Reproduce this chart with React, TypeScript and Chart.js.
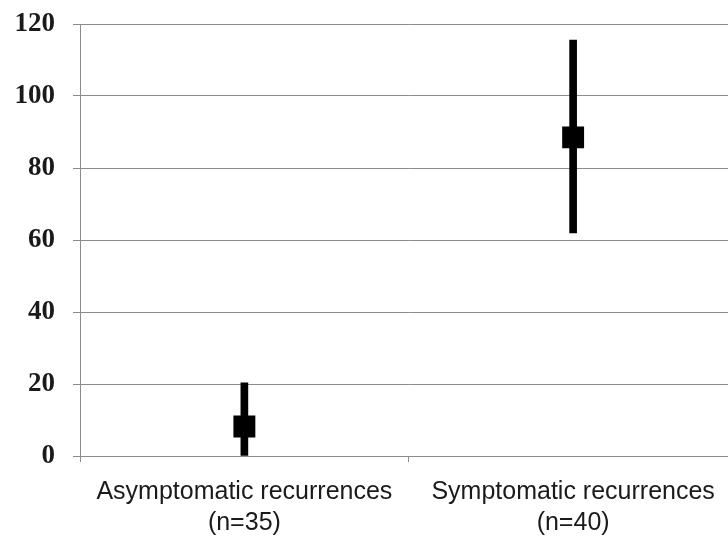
import React, { useEffect, useRef } from "react";
import { Chart, registerables } from "chart.js";

Chart.register(...registerables);

const categories: string[][] = [
  ["Asymptomatic recurrences", "(n=35)"],
  ["Symptomatic recurrences", "(n=40)"],
];
const means: number[] = [8.2, 88.5];
const lowerBounds: number[] = [0, 62];
const upperBounds: number[] = [20.3, 115.5];
const yTicks: number[] = [0, 20, 40, 60, 80, 100, 120];

export default function App() {
  const ref = useRef<HTMLCanvasElement | null>(null);

  useEffect(() => {
    if (!ref.current) return;
    const gridColor = "#8c8c8c";
    const chart = new Chart(ref.current, {
      type: "bar",
      data: {
        labels: categories,
        datasets: [
          {
            type: "line",
            label: "Mean",
            data: means,
            showLine: false,
            pointStyle: "rect",
            pointRadius: 15.5,
            pointHoverRadius: 15.5,
            pointBackgroundColor: "#000",
            pointBorderColor: "#000",
            pointBorderWidth: 0,
            order: 0,
          } as any,
          {
            type: "bar",
            label: "Range",
            data: lowerBounds.map((lo, i) => [lo, upperBounds[i]]),
            backgroundColor: "#000",
            borderWidth: 0,
            barThickness: 7,
            order: 1,
          } as any,
        ],
      },
      options: {
        responsive: false,
        devicePixelRatio: 1,
        animation: false,
        layout: { padding: { top: 24, right: 0, bottom: 0, left: 0 } },
        plugins: { legend: { display: false }, tooltip: { enabled: false } },
        scales: {
          x: {
            offset: true,
            grid: {
              offset: true,
              drawOnChartArea: false,
              drawTicks: true,
              tickLength: 6,
              color: gridColor,
            },
            border: { color: gridColor, width: 1 },
            ticks: {
              color: "#1a1a1a",
              font: { family: "Liberation Sans", size: 25, lineHeight: 1.25 },
              padding: 14,
              maxRotation: 0,
              autoSkip: false,
            },
            afterFit: (s: any) => {
              s.height = 85;
            },
          },
          y: {
            min: 0,
            max: 120,
            afterBuildTicks: (s: any) => {
              s.ticks = yTicks.map((v) => ({ value: v }));
            },
            grid: { color: gridColor, tickLength: 7, lineWidth: 1 },
            border: { color: gridColor, width: 1 },
            ticks: {
              color: "#1a1a1a",
              font: { family: "Liberation Serif", size: 27, weight: "bold" },
              padding: 18,
            },
            afterFit: (s: any) => {
              s.width = 80;
              s.paddingTop = 0;
              s.paddingBottom = 0;
            },
          },
        },
      },
    });
    return () => chart.destroy();
  }, []);

  return (
    <div
      style={{
        position: "absolute",
        left: 0,
        top: 0,
        width: 728,
        height: 541,
        overflow: "hidden",
        background: "#fff",
      }}
    >
      <canvas
        ref={ref}
        width={753}
        height={541}
        style={{ width: 753, height: 541, display: "block" }}
      />
    </div>
  );
}
